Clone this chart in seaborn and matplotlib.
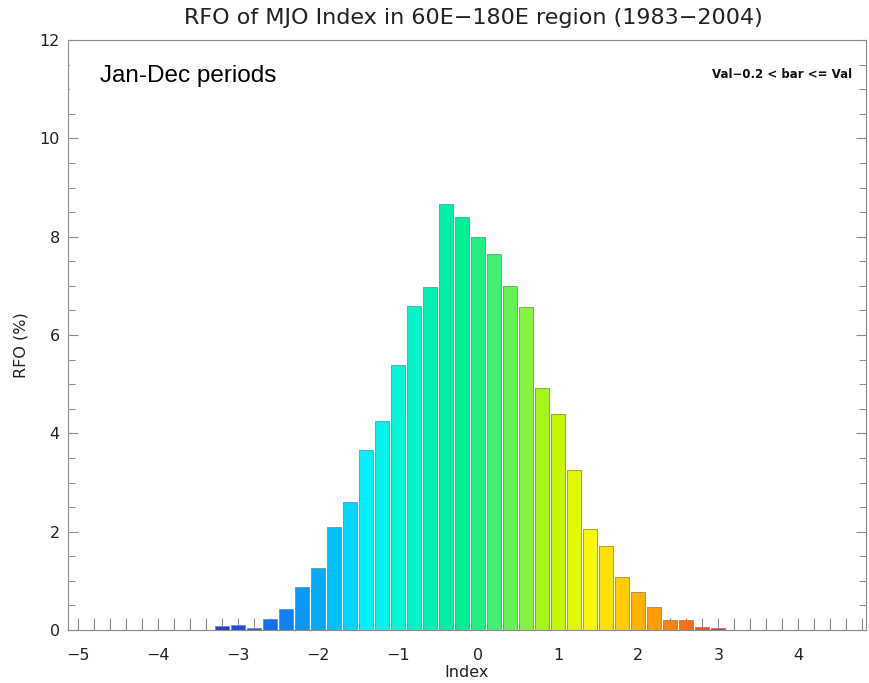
import numpy as np
import pandas as pd
import matplotlib
matplotlib.use("Agg")
import matplotlib.pyplot as plt
import seaborn as sns
from matplotlib.colors import LinearSegmentedColormap, to_hex
from matplotlib.ticker import MultipleLocator, FixedLocator
from matplotlib.patches import Rectangle

# ---- data ----
bin_centers = [-5.0, -4.8, -4.6, -4.4, -4.2, -4.0, -3.8, -3.6, -3.4, -3.2,
               -3.0, -2.8, -2.6, -2.4, -2.2, -2.0, -1.8, -1.6, -1.4, -1.2,
               -1.0, -0.8, -0.6, -0.4, -0.2, 0.0, 0.2, 0.4, 0.6, 0.8,
               1.0, 1.2, 1.4, 1.6, 1.8, 2.0, 2.2, 2.4, 2.6, 2.8,
               3.0, 3.2, 3.4, 3.6, 3.8, 4.0, 4.2, 4.4, 4.6, 4.8]
rfo = [0.0, 0.0, 0.01, 0.01, 0.0, 0.0, 0.0, 0.0, 0.01, 0.09,
       0.11, 0.05, 0.23, 0.43, 0.88, 1.27, 2.09, 2.60, 3.66, 4.25,
       5.40, 6.60, 6.98, 8.66, 8.39, 8.00, 7.64, 7.00, 6.56, 4.93,
       4.40, 3.25, 2.05, 1.71, 1.08, 0.78, 0.46, 0.21, 0.20, 0.06,
       0.04, 0.01, 0.0, 0.0, 0.0, 0.0, 0.0, 0.0, 0.0, 0.0]
x_tick_values = [-5, -4, -3, -2, -1, 0, 1, 2, 3, 4]
y_tick_values = [0, 2, 4, 6, 8, 10, 12]

title = "RFO of MJO Index in 60E\u2212180E region (1983\u22122004)"
period_label = "Jan-Dec periods"
bin_note = "Val\u22120.2 < bar <= Val"

# ---- colour scale (IDL-like rainbow) ----
anchor_vals = [-3.4, -3.0, -2.6, -2.2, -1.8, -1.4, -1.0, -0.6, -0.2,
               0.2, 0.6, 1.0, 1.4, 1.8, 2.2, 2.6, 3.0, 3.4]
anchor_cols = ["#2a32d0", "#1a4ee8", "#1070f0", "#0898f8", "#00c0ff", "#00f0ff",
               "#00f8d8", "#00f0b4", "#00ee94", "#40f070", "#84f440", "#c4f800",
               "#f8f800", "#ffcc00", "#ff9c00", "#ff7010", "#e83a2a", "#d02828"]
lo, hi = anchor_vals[0], anchor_vals[-1]
cmap = LinearSegmentedColormap.from_list(
    "idl", [((v - lo) / (hi - lo), c) for v, c in zip(anchor_vals, anchor_cols)])

sns.set_theme(style="ticks")
plt.rcParams["font.family"] = ["DejaVu Sans"]

fig = plt.figure(figsize=(8.7, 6.83), dpi=100)
ax = fig.add_axes([68 / 870, 53 / 683, 798 / 870, 590 / 683])

labels = [f"{v:.1f}" for v in bin_centers]
palette = {lab: to_hex(cmap(float(np.clip((v - lo) / (hi - lo), 0, 1))))
           for lab, v in zip(labels, bin_centers)}
df = pd.DataFrame({"Index": bin_centers, "RFO": rfo, "bin": labels})

sns.barplot(data=df, x="Index", y="RFO", hue="bin", palette=palette,
            native_scale=True, width=0.875, dodge=False, legend=False,
            errorbar=None, saturation=1, edgecolor="#8a8a8a", linewidth=0.6,
            ax=ax)

ax.set_xlim(-5.125, 4.845)
ax.set_ylim(0, 12)
ax.xaxis.set_major_locator(FixedLocator(x_tick_values))
ax.xaxis.set_minor_locator(MultipleLocator(0.2))
ax.yaxis.set_major_locator(FixedLocator(y_tick_values))
ax.yaxis.set_minor_locator(MultipleLocator(0.5))
ax.grid(False)

tick_col = "#8c8c8c"
ax.tick_params(axis="x", which="both", direction="in", length=9, width=0.8,
               color=tick_col, labelsize=11.5, labelcolor="#222222", pad=13,
               top=False, bottom=True)
ax.tick_params(axis="y", which="major", direction="in", length=7, width=0.8,
               color=tick_col, labelsize=11.5, labelcolor="#222222", pad=6,
               left=True, right=True)
ax.tick_params(axis="y", which="minor", direction="in", length=5, width=0.7,
               color=tick_col, left=True, right=True)
for s in ax.spines.values():
    s.set_visible(True)
    s.set_color(tick_col)
    s.set_linewidth(0.8)

ax.set_xlabel("Index", fontsize=11.5, color="#222222")
ax.set_ylabel("RFO (%)", fontsize=11.5, color="#222222")
ax.xaxis.set_label_coords(0.5, (630 - 665) / 590)
ax.yaxis.set_label_coords((28 - 68) / 798, (630 - 345) / 590)

# white annotation box
ax.add_patch(Rectangle(((70 - 68) / 798, (630 - 108) / 590), (325 - 70) / 798,
                       (108 - 43) / 590, transform=ax.transAxes,
                       facecolor="white", edgecolor="none", zorder=5))
ax.text((100 - 68) / 798, (630 - 76) / 590, period_label, transform=ax.transAxes,
        ha="left", va="center", fontsize=17.5, family="Liberation Sans",
        color="black", zorder=6)
ax.text((852 - 68) / 798, (630 - 75) / 590, bin_note, transform=ax.transAxes,
        ha="right", va="center", fontsize=8.5, fontweight="bold", color="#111111",
        zorder=6)

fig.text(473 / 870, 1 - 18 / 683, title, ha="center", va="center",
         fontsize=16, color="#222222")

fig.savefig("out.png", dpi=100)
